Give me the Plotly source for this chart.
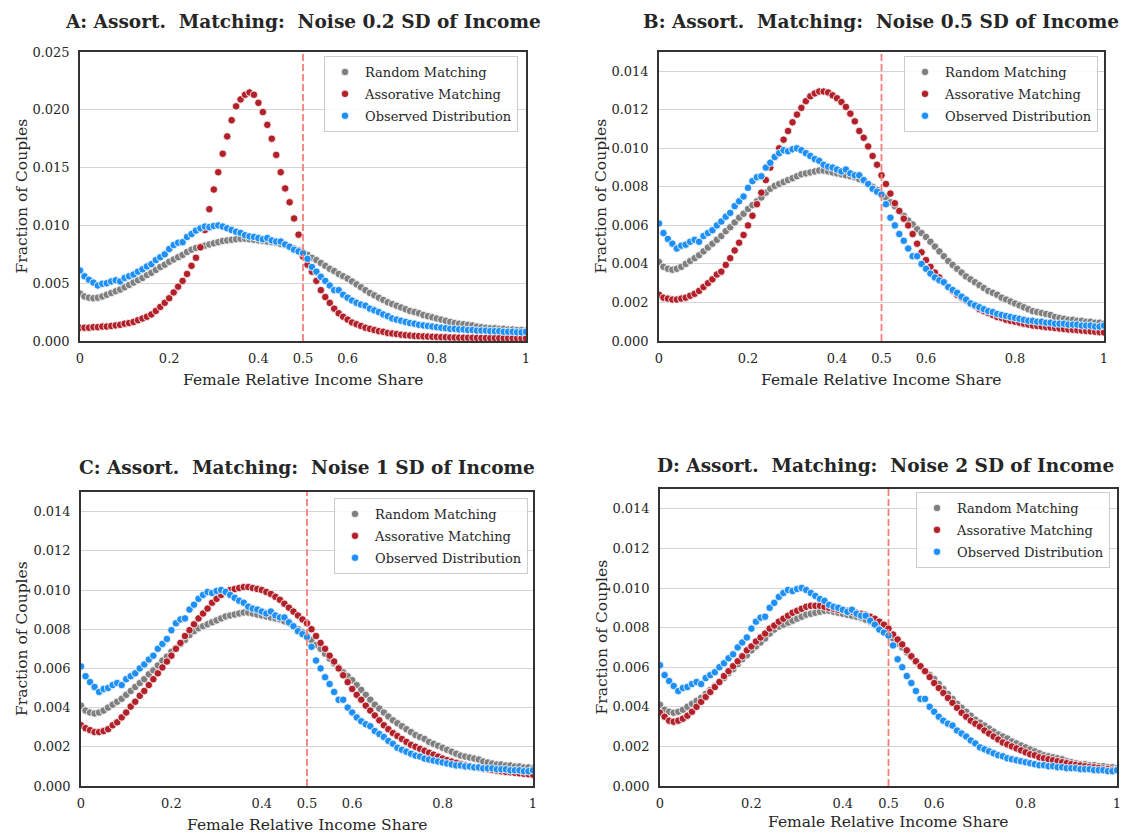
import plotly.graph_objects as go

# ---------------- data (fraction of couples, in units of 1e-4) ----------------
SHARE = [round(i * 0.01, 2) for i in range(101)]   # female relative income share
UNIT = 1e-4

RANDOM = [
    41, 38.5, 37.5, 37, 37.5, 38.5, 40, 41.5, 43, 44.5,
    46.5, 48.5, 50.5, 52.5, 54.5, 57, 59, 61.5, 64, 66,
    68.5, 70.5, 72.5, 74.5, 77, 79, 80.5, 81.5, 82.5, 83.5,
    84.5, 85.5, 86.5, 87, 87.5, 88, 88.5, 88.5, 88, 87.5,
    87, 86.5, 86, 85.5, 85, 84, 83, 81.5, 80, 78.5,
    76.5, 74.5, 72, 70, 67.5, 65, 62.5, 60.5, 58, 56,
    54, 51.5, 49, 46.5, 44, 41.5, 39.5, 37.5, 35.5, 33.5,
    32, 30.5, 29, 27.5, 26, 25, 24, 22.5, 21.5, 20.5,
    19.5, 18.5, 17.5, 16.5, 15.5, 15, 14.5, 14, 13.5, 12.5,
    12, 11.5, 11, 11, 10.5, 10.5, 10, 10, 9.5, 9.5, 9,
]

OBSERVED = [
    61, 56, 53, 50.5, 48, 49.5, 50, 51.5, 52.5, 51.5,
    54.5, 56, 57.5, 60, 62, 64.5, 66.5, 70, 72.5, 75,
    79.5, 83, 85, 85.5, 90, 92.5, 95.5, 97.5, 99, 98.5,
    99.5, 100, 99, 97.5, 96, 94.5, 93.5, 91.5, 90.5, 90,
    89, 88, 89, 87, 86, 86, 83.5, 81.5, 79, 77.5,
    76, 71, 64, 60, 55.5, 52, 48, 44, 44, 40,
    37.5, 35, 33, 31.5, 30.5, 28, 26.5, 25, 23, 21.5,
    19.5, 18.5, 17.5, 16.5, 15.5, 15, 14, 13.5, 13, 12.5,
    12, 11.5, 11, 10.5, 10.5, 10, 10, 9.5, 9.5, 9,
    9, 9, 8.5, 8.5, 8.5, 8, 8, 8, 7.5, 7.5, 8,
]

ASSORT_A = [
    11.5, 11.5, 11.5, 12, 12, 12.5, 12.5, 13, 13.5, 14,
    15, 15.5, 16.5, 18, 19.5, 21, 23, 26, 29.5, 33,
    37, 42, 47, 52, 58, 65, 72, 81, 96, 114,
    131, 146, 162, 177, 191, 203, 209, 213, 215, 213,
    206, 198, 187, 175, 161, 146, 132, 120, 106, 92,
    73, 66, 60, 52, 44, 38, 33, 28, 24, 21,
    18.5, 16, 14.5, 13, 11.5, 10.5, 9.5, 8.5, 8, 7,
    6.5, 6, 5.5, 5, 4.7, 4.4, 4.2, 4, 3.8, 3.6,
    3.5, 3.3, 3.2, 3.1, 3, 2.9, 2.9, 2.8, 2.8, 2.7,
    2.6, 2.6, 2.5, 2.5, 2.5, 2.4, 2.4, 2.4, 2.3, 2.3, 2.3,
]

ASSORT_B = [
    24, 22.5, 22, 21.5, 21.5, 22, 22.5, 23.5, 24.5, 26,
    28, 30, 32, 34.5, 36, 39.5, 43, 47, 51, 55,
    60, 65, 71, 77, 83.5, 90, 95.5, 100, 104.5, 109,
    113.5, 117.5, 121, 124.5, 127, 128.5, 129.5, 129.5, 129, 127.5,
    126, 124, 121.5, 118, 114, 109, 105.5, 101, 96, 91.5,
    86, 81.5, 76.5, 71.5, 67.5, 63.5, 60, 55.5, 50.5, 46,
    42, 38.5, 35.5, 33, 30.5, 28, 26, 24, 22.5, 21,
    19.5, 18, 16.5, 15.5, 14.5, 13.5, 12.5, 12, 11, 10.5,
    10, 9.5, 9, 8.5, 8, 7.8, 7.5, 7.2, 7, 6.7,
    6.5, 6.2, 6, 5.8, 5.6, 5.4, 5.2, 5, 4.8, 4.6, 4.4,
]

ASSORT_C = [
    31, 29.5, 28.5, 27.5, 27.5, 28, 29, 31, 32.5, 35,
    37.5, 40.5, 43, 46, 48.5, 51.5, 54.5, 57.5, 60.5, 63.5,
    66.5, 70, 73, 76.5, 79.5, 82.5, 85.5, 88, 90.5, 93.5,
    95.5, 97.5, 99, 100, 100.5, 101, 101.5, 101.5, 101, 100.5,
    100, 99, 98, 96.5, 95, 93, 91, 89, 87, 85,
    83, 80, 76.5, 73, 70, 66.5, 63.5, 60, 56.5, 53,
    49.5, 46.5, 44, 41, 38.5, 36, 33.5, 31, 29, 27,
    25.5, 24, 22.5, 21, 20, 19, 18, 17, 16, 15,
    14, 13.2, 12.5, 11.8, 11.2, 10.6, 10, 9.6, 9.2, 8.8,
    8.5, 8.2, 7.8, 7.5, 7.2, 7, 6.7, 6.5, 6.2, 6, 5.8,
]

ASSORT_D = [
    37, 35, 33, 32.5, 33, 34, 35.5, 37.5, 40, 42.5,
    45, 47.5, 50, 52.5, 55.5, 58, 60.5, 63, 65.5, 68.5,
    70.5, 73, 75, 77, 79.5, 81, 83, 84.5, 86, 87.5,
    88.5, 89.5, 90.5, 91, 91, 91, 90.5, 90, 89.5, 89,
    89, 88.5, 88, 87.5, 87, 86.5, 85.5, 84.5, 83, 81.5,
    79.5, 76.5, 74, 71.5, 68.5, 65.5, 63, 60.5, 58, 55,
    52, 49.5, 47, 44.5, 42, 39.5, 37, 35, 33, 31.5,
    30, 28, 26.5, 25, 23.5, 22, 21, 20, 19, 18,
    17, 16, 15.5, 14.5, 14, 13.5, 13, 12.5, 12, 11.5,
    11, 10.7, 10.4, 10, 9.7, 9.4, 9.1, 8.8, 8.5, 8.2, 8,
]

TITLES = [
    "A: Assort.  Matching:  Noise 0.2 SD of Income",
    "B: Assort.  Matching:  Noise 0.5 SD of Income",
    "C: Assort.  Matching:  Noise 1 SD of Income",
    "D: Assort.  Matching:  Noise 2 SD of Income",
]
ASSORT = [ASSORT_A, ASSORT_B, ASSORT_C, ASSORT_D]
Y_MAX = [0.025, 0.015, 0.015, 0.015]
Y_TICKS = [
    [0.000, 0.005, 0.010, 0.015, 0.020, 0.025],
    [0.000, 0.002, 0.004, 0.006, 0.008, 0.010, 0.012, 0.014],
    [0.000, 0.002, 0.004, 0.006, 0.008, 0.010, 0.012, 0.014],
    [0.000, 0.002, 0.004, 0.006, 0.008, 0.010, 0.012, 0.014],
]
X_TICKS = [0, 0.2, 0.4, 0.5, 0.6, 0.8, 1]
X_TICKTEXT = ["0", "0.2", "0.4", "0.5", "0.6", "0.8", "1"]
SERIES_NAMES = ["Random Matching", "Assorative Matching", "Observed Distribution"]
THRESHOLD = 0.5

# ---------------- styling / layout ----------------
W, H = 1122, 834
FONT = "DejaVu Serif"
TXT = "#262626"
COLORS = ["#7f7f7f", "#b2202a", "#1e8ff5"]

# plot-area pixel boxes: (left, right, top, bottom)
BOXES = [
    (80, 526, 52, 341),
    (659, 1104, 52, 341),
    (81, 533, 492, 786),
    (660, 1117, 489, 786),
]
TITLE_POS = [(303, 22), (881, 22), (307, 468), (885, 465)]
XLABEL_Y = [380, 380, 825, 822]
YLABEL_X = [22, 601, 22, 601]
LEGEND_POS = [(518, 56), (1098, 56), (528, 498), (1110, 492)]


def px(x):
    return x / W


def py(y):
    return 1 - y / H


fig = go.Figure()
layout = dict(
    width=W, height=H, autosize=False,
    margin=dict(l=0, r=0, t=0, b=0),
    paper_bgcolor="white", plot_bgcolor="white",
    font=dict(family=FONT, color=TXT, size=13),
    showlegend=True,
    annotations=[], shapes=[],
)

for i in range(4):
    n = i + 1
    sfx = "" if n == 1 else str(n)
    xa, ya = "x" + sfx, "y" + sfx
    leg = "legend" + sfx
    l, r, t, b = BOXES[i]

    series = [RANDOM, ASSORT[i], OBSERVED]
    for k in range(3):
        fig.add_trace(go.Scatter(
            x=SHARE, y=[v * UNIT for v in series[k]],
            mode="markers", name=SERIES_NAMES[k],
            marker=dict(color=COLORS[k], size=7.5,
                        line=dict(color="white", width=0.8)),
            xaxis=xa, yaxis=ya, legend=leg,
            legendgroup=f"g{n}_{k}", showlegend=True,
            hoverinfo="skip",
        ))

    layout["xaxis" + sfx] = dict(
        domain=[px(l), px(r)], anchor=ya, range=[0, 1],
        tickvals=X_TICKS, ticktext=X_TICKTEXT,
        showgrid=False, zeroline=False, showline=True, mirror=True,
        linecolor="#333333", linewidth=1.6, ticks="",
        ticklabelstandoff=5, ticklabeloverflow="allow",
        tickfont=dict(family=FONT, size=13, color=TXT), automargin=False,
    )
    layout["yaxis" + sfx] = dict(
        domain=[py(b), py(t)], anchor=xa, range=[0, Y_MAX[i]],
        tickvals=Y_TICKS[i], tickformat=".3f",
        showgrid=True, gridcolor="#d4d4d4", gridwidth=1.2,
        zeroline=False, showline=True, mirror=True,
        linecolor="#333333", linewidth=1.6, ticks="",
        ticklabelstandoff=6, ticklabeloverflow="allow",
        tickfont=dict(family=FONT, size=13, color=TXT), automargin=False,
    )
    lx, ly = LEGEND_POS[i]
    layout[leg] = dict(
        x=px(lx), y=py(ly), xanchor="right", yanchor="top",
        xref="paper", yref="paper",
        bgcolor="rgba(255,255,255,0.85)", bordercolor="#cccccc", borderwidth=1,
        font=dict(family=FONT, size=13, color=TXT),
        tracegroupgap=2, itemclick=False, itemdoubleclick=False,
    )
    layout["shapes"].append(dict(
        type="line", xref=xa, yref=ya + " domain",
        x0=THRESHOLD, x1=THRESHOLD, y0=0, y1=1, layer="above",
        line=dict(color="#f47f76", width=1.8, dash="7px,3px"),
    ))
    tx, ty = TITLE_POS[i]
    layout["annotations"].append(dict(
        text="<b>" + TITLES[i] + "</b>", x=px(tx), y=py(ty),
        xref="paper", yref="paper", showarrow=False,
        xanchor="center", yanchor="middle",
        font=dict(family=FONT, size=18.5, color=TXT),
    ))
    layout["annotations"].append(dict(
        text="Female Relative Income Share", x=px((l + r) / 2), y=py(XLABEL_Y[i]),
        xref="paper", yref="paper", showarrow=False,
        xanchor="center", yanchor="middle",
        font=dict(family=FONT, size=15.5, color=TXT),
    ))
    layout["annotations"].append(dict(
        text="Fraction of Couples", x=px(YLABEL_X[i]), y=py((t + b) / 2),
        xref="paper", yref="paper", showarrow=False, textangle=-90,
        xanchor="center", yanchor="middle",
        font=dict(family=FONT, size=15.5, color=TXT),
    ))

fig.update_layout(**layout)
fig.write_html(
    "out.html",
    config={"displayModeBar": False},
    post_script="document.body.style.margin='0';document.body.style.padding='0';",
)
